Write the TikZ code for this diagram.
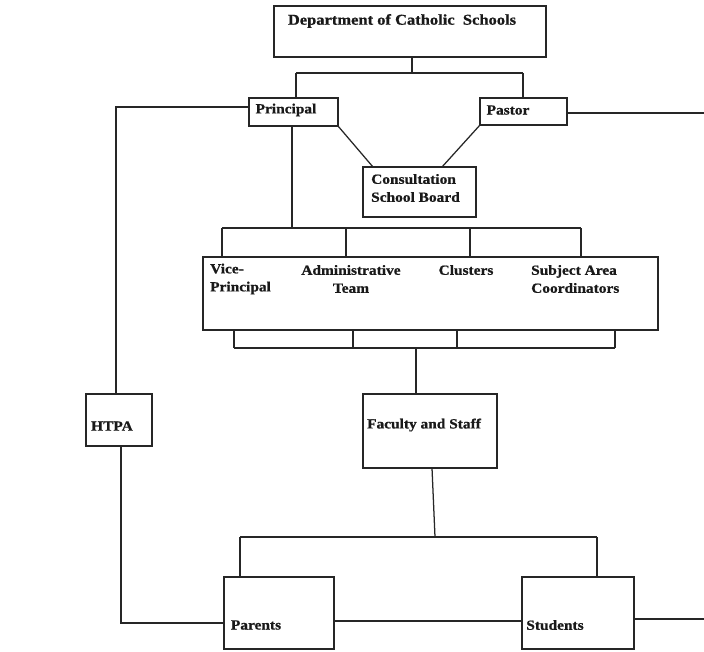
\documentclass[tikz,border=0pt]{standalone}
\usepackage{fontspec}
\setmainfont{Liberation Serif}
\newfontfamily\lblfont[FakeStretch=1.1,FakeBold=0.8]{Liberation Serif}
\begin{document}
\begin{tikzpicture}[x=1pt,y=-1pt,
  conn/.style={draw=black!85, line width=1.25pt},
  boxnode/.style={draw=black!85, line width=1.25pt, inner sep=0pt, outer sep=0pt, anchor=north west},
  lbl/.style={inner sep=0pt, text=black!90, font=\lblfont\bfseries\fontsize{14}{18}\selectfont}
]
\useasboundingbox[fill=white] (0,0) rectangle (704,651);
% boxes
\node[boxnode, minimum width=272pt, minimum height=51pt] (dept) at (274,6) {};
\node[boxnode, minimum width=89pt, minimum height=28pt] (pri) at (249,98) {};
\node[boxnode, minimum width=87pt, minimum height=27pt] (pas) at (480,98) {};
\node[boxnode, minimum width=113pt, minimum height=50pt] (csb) at (363,167) {};
\node[boxnode, minimum width=455pt, minimum height=73pt] (mid) at (203,257) {};
\node[boxnode, minimum width=66pt, minimum height=52pt] (htpa) at (86,394) {};
\node[boxnode, minimum width=134pt, minimum height=74pt] (fac) at (363,394) {};
\node[boxnode, minimum width=110pt, minimum height=72pt] (par) at (224,577) {};
\node[boxnode, minimum width=112pt, minimum height=72pt] (stu) at (522,577) {};
% texts
\node[lbl, font=\lblfont\bfseries\fontsize{15}{18}\selectfont] (tdept) at (402,21) {Department of Catholic\ \ Schools};
\node[lbl] (tpri) at (286,110) {Principal};
\node[lbl] (tpas) at (508,110) {Pastor};
\node[lbl, align=left, anchor=west] (tcsb) at (371,188) {Consultation\\School Board};
\node[lbl, align=left, anchor=west] (tvp) at (210,279) {Vice-\\Principal};
\node[lbl, align=center] (tadm) at (351,279) {Administrative\\Team};
\node[lbl] (tclu) at (466,270) {Clusters};
\node[lbl, align=left, anchor=west] (tsub) at (531,279) {Subject Area\\Coordinators};
\node[lbl] (thtpa) at (112,426) {HTPA};
\node[lbl] (tfac) at (424,425) {Faculty and Staff};
\node[lbl] (tpar) at (256,625) {Parents};
\node[lbl] (tstu) at (555,625) {Students};
% junction coordinates
\coordinate (b1m) at (412,73);
\coordinate (b1l) at (296,73);
\coordinate (b1r) at (523,73);
\coordinate (lc) at (116,107);
\coordinate (lb) at (121,623);
\coordinate (pasend) at (704,113);
\coordinate (b2l) at (222,228);
\coordinate (b2a) at (346,228);
\coordinate (b2b) at (470,228);
\coordinate (b2r) at (581,228);
\coordinate (b2p) at (292,228);
\coordinate (b3l) at (234,348);
\coordinate (b3a) at (353,348);
\coordinate (b3b) at (457,348);
\coordinate (b3r) at (615,348);
\coordinate (b3m) at (416,348);
\coordinate (b4m) at (435,537);
\coordinate (b4l) at (240,537);
\coordinate (b4r) at (597,537);
\coordinate (stuend) at (704,619);
% connectors
\draw[conn] (dept.south -| b1m) -- (b1m);
\draw[conn] (b1l) -- (b1r);
\draw[conn] (b1l) -- (b1l |- pri.north);
\draw[conn] (b1r) -- (b1r |- pas.north);
\draw[conn] (pri.west |- lc) -- (lc) -- (lc |- htpa.north);
\draw[conn] (pas.east |- pasend) -- (pasend);
\draw[conn] (pri.south east) -- (373,167);
\draw[conn] (pas.south west) -- (442,167);
\draw[conn] (pri.south -| b2p) -- (b2p);
\draw[conn] (b2l) -- (b2r);
\foreach \c in {b2l,b2a,b2b,b2r} \draw[conn] (\c) -- (\c |- mid.north);
\foreach \c in {b3l,b3a,b3b,b3r} \draw[conn] (\c |- mid.south) -- (\c);
\draw[conn] (b3l) -- (b3r);
\draw[conn] (b3m) -- (b3m |- fac.north);
\draw[conn] (fac.south -| 432,0) -- (b4m);
\draw[conn] (b4l) -- (b4r);
\draw[conn] (b4l) -- (b4l |- par.north);
\draw[conn] (b4r) -- (b4r |- stu.north);
\draw[conn] (htpa.south -| lb) -- (lb) -- (lb -| par.west);
\draw[conn] (par.east |- 0,621) -- (stu.west |- 0,621);
\draw[conn] (stu.east |- stuend) -- (stuend);
\end{tikzpicture}
\end{document}
